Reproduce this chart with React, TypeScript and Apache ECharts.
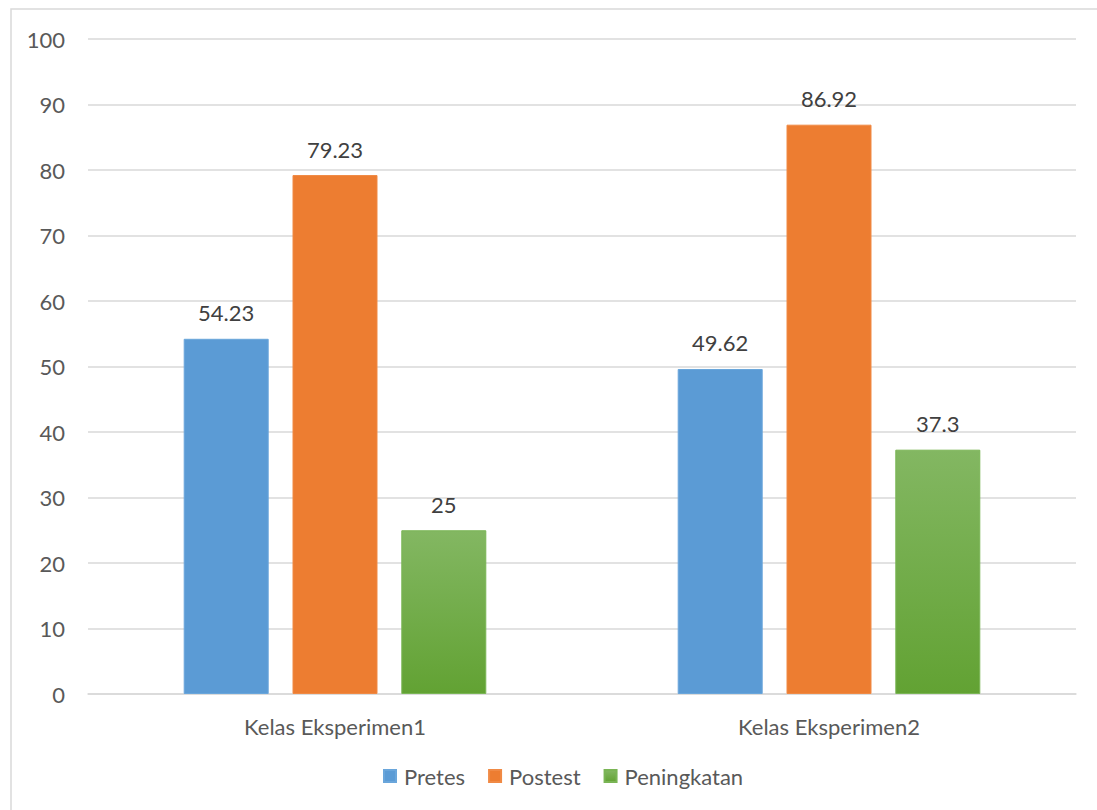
import React, { useEffect, useRef } from "react";
import * as echarts from "echarts";

const categories = ["Kelas Eksperimen1", "Kelas Eksperimen2"];
const pretes = [54.23, 49.62];
const postest = [79.23, 86.92];
const peningkatan = [25, 37.3];
const yTicks = { min: 0, max: 100, interval: 10 };

const FONT = "Lato, 'Open Sans', sans-serif";
const TXT = "#595959";
const FS = 22;

export default function App() {
  const ref = useRef<HTMLDivElement>(null);
  useEffect(() => {
    if (!ref.current) return;
    const chart = echarts.init(ref.current, null, { renderer: "svg" });
    const label = {
      show: true,
      position: "top",
      distance: 15,
      color: "#404040",
      fontSize: FS,
      fontFamily: FONT,
    };
    chart.setOption({
      animation: false,
      backgroundColor: "#ffffff",
      graphic: [
        {
          type: "rect",
          shape: { x: 11, y: 9, width: 1100, height: 820 },
          style: { fill: "none", stroke: "#d9d9d9", lineWidth: 1.5 },
          silent: true,
        },
      ],
      grid: { left: 88, right: 21, top: 39, bottom: 116, containLabel: false },
      legend: {
        bottom: 18,
        left: 378,
        itemWidth: 12,
        itemHeight: 12,
        itemGap: 23,
        icon: "rect",
        textStyle: { color: TXT, fontSize: FS, fontFamily: FONT, padding: [0, 0, 0, 3] },
        data: ["Pretes", "Postest", "Peningkatan"],
      },
      xAxis: {
        type: "category",
        data: categories,
        axisLine: { show: true, lineStyle: { color: "#d9d9d9", width: 1.5 } },
        axisTick: { show: false },
        axisLabel: { color: TXT, fontSize: FS, fontFamily: FONT, margin: 21 },
      },
      yAxis: {
        type: "value",
        min: yTicks.min,
        max: yTicks.max,
        interval: yTicks.interval,
        axisLine: { show: false },
        axisTick: { show: false },
        splitLine: { lineStyle: { color: "#d9d9d9", width: 1.5 } },
        axisLabel: { color: TXT, fontSize: FS, fontFamily: FONT, margin: 23 },
      },
      series: [
        {
          name: "Pretes",
          type: "bar",
          data: pretes,
          barWidth: 85,
          barGap: "28%",
          itemStyle: { color: "#5b9bd5", borderColor: "#6aa6db", borderWidth: 1 },
          label,
        },
        {
          name: "Postest",
          type: "bar",
          data: postest,
          barWidth: 85,
          barGap: "28%",
          itemStyle: { color: "#ed7d31", borderColor: "#f08a45", borderWidth: 1 },
          label,
        },
        {
          name: "Peningkatan",
          type: "bar",
          data: peningkatan,
          barWidth: 85,
          barGap: "28%",
          itemStyle: {
            color: new echarts.graphic.LinearGradient(0, 0, 0, 1, [
              { offset: 0, color: "#83b762" },
              { offset: 1, color: "#62a233" },
            ]),
            borderColor: "#7ab555",
            borderWidth: 1,
          },
          label,
        },
      ],
    });
    return () => chart.dispose();
  }, []);
  return (
    <div
      ref={ref}
      style={{ position: "fixed", left: 0, top: 0, width: 1097, height: 810 }}
    />
  );
}
